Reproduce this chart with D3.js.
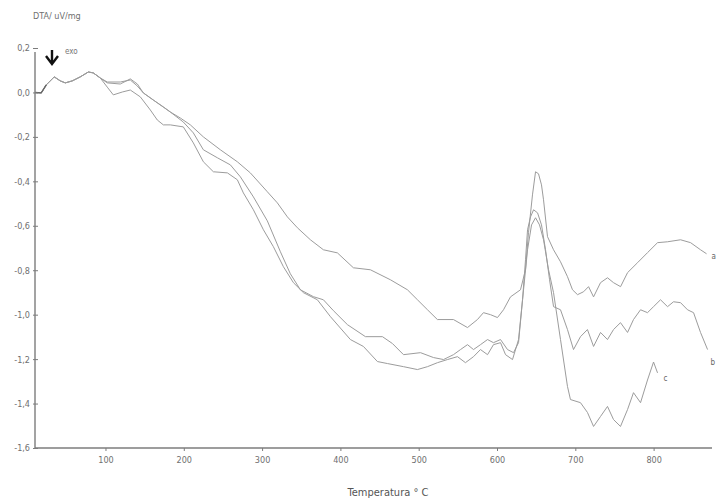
<!DOCTYPE html>
<html>
<head>
<meta charset="utf-8">
<script src="https://cdn.jsdelivr.net/npm/d3@7"></script>
<style>
  html, body { margin: 0; padding: 0; background: #fff; }
  svg { display: block; font-family: "Liberation Sans Narrow", "DejaVu Sans Condensed", "Liberation Sans", sans-serif; }
</style>
</head>
<body>
<svg id="chart" width="720" height="503"></svg>
<script>
// ---- data (temperature °C, DTA uV/mg) ----
const tempA = [10.3,18.0,24.4,34.6,42.3,48.7,57.6,67.8,78.1,84.4,93.4,102.3,118.9,131.7,140.7,148.3,161.1,173.9,182.8,195.6,208.4,225.0,246.7,268.4,285.0,306.7,319.5,332.3,345.1,361.7,378.3,396.2,416.6,438.3,463.9,485.6,498.4,511.2,523.9,544.4,562.3,575.0,582.7,591.7,600.6,608.3,617.2,630.0,636.4,640.2,645.3,649.2,653.0,656.8,659.4,664.5,672.2,681.1,690.0,696.4,702.8,710.5,716.9,723.3,732.2,741.1,748.8,757.8,766.7,779.5,792.2,805.0,817.8,834.4,847.2,859.9,867.6];
const valA = [0.0,-0.002,0.034,0.070,0.052,0.043,0.052,0.070,0.092,0.088,0.065,0.047,0.047,0.056,0.029,-0.002,-0.034,-0.065,-0.088,-0.115,-0.146,-0.200,-0.258,-0.312,-0.362,-0.447,-0.497,-0.560,-0.609,-0.663,-0.708,-0.722,-0.789,-0.798,-0.843,-0.888,-0.933,-0.978,-1.022,-1.022,-1.058,-1.022,-0.991,-1.000,-1.013,-0.978,-0.920,-0.888,-0.798,-0.631,-0.461,-0.357,-0.366,-0.416,-0.483,-0.649,-0.708,-0.762,-0.829,-0.888,-0.910,-0.897,-0.874,-0.920,-0.856,-0.834,-0.856,-0.874,-0.811,-0.766,-0.721,-0.676,-0.672,-0.663,-0.676,-0.708,-0.726];

const tempB = [10.3,18.0,24.4,34.6,42.3,48.7,57.6,67.8,78.1,84.4,93.4,102.3,118.9,131.7,140.7,148.3,166.2,182.8,199.4,212.2,225.0,242.9,259.5,272.3,288.9,306.7,323.4,336.1,348.9,365.5,378.3,391.1,409.0,432.0,453.7,466.5,480.6,502.3,518.9,531.7,544.4,553.4,562.3,570.0,578.9,587.9,595.5,604.5,613.4,621.1,627.5,632.6,636.4,639.0,642.8,646.7,651.8,656.8,662.0,667.1,672.2,681.1,690.0,697.7,706.6,715.5,723.3,732.2,741.1,748.8,757.7,766.7,774.3,783.3,792.2,799.9,808.8,817.8,825.4,834.4,843.3,851.0,859.9,868.9];
const valB = [0.0,-0.002,0.034,0.070,0.052,0.043,0.052,0.070,0.092,0.088,0.065,0.043,0.038,0.061,0.038,-0.002,-0.047,-0.088,-0.133,-0.182,-0.258,-0.294,-0.326,-0.380,-0.470,-0.578,-0.717,-0.816,-0.888,-0.919,-0.933,-0.982,-1.045,-1.099,-1.099,-1.130,-1.180,-1.171,-1.193,-1.202,-1.180,-1.157,-1.135,-1.157,-1.135,-1.112,-1.126,-1.112,-1.157,-1.171,-1.126,-0.933,-0.753,-0.618,-0.560,-0.528,-0.542,-0.596,-0.708,-0.843,-0.964,-0.978,-1.067,-1.157,-1.099,-1.067,-1.143,-1.080,-1.112,-1.067,-1.036,-1.080,-1.022,-0.978,-0.991,-0.964,-0.933,-0.964,-0.942,-0.946,-0.978,-0.991,-1.080,-1.157];

const tempC = [10.3,18.0,24.4,34.6,42.3,48.7,57.6,67.8,78.1,84.4,93.4,102.3,110.0,121.5,131.7,144.5,157.3,166.2,173.9,182.8,199.4,212.2,225.0,237.8,255.7,268.4,276.1,288.9,301.7,314.4,327.2,340.0,352.8,370.6,387.3,412.8,429.4,447.3,460.1,480.6,498.4,511.2,524.0,536.7,549.5,559.7,570.0,578.9,587.9,595.5,604.5,610.9,619.8,627.5,632.6,639.0,644.1,649.2,654.3,659.4,665.8,672.2,681.1,690.0,693.8,706.6,715.5,723.3,732.2,741.1,748.8,757.7,766.7,774.3,783.3,792.2,799.9,805.0];
const valC = [0.0,-0.002,0.034,0.070,0.052,0.043,0.052,0.070,0.092,0.088,0.065,0.024,-0.011,0.002,0.011,-0.020,-0.079,-0.124,-0.146,-0.146,-0.155,-0.227,-0.312,-0.357,-0.362,-0.393,-0.452,-0.528,-0.618,-0.694,-0.784,-0.856,-0.901,-0.933,-1.009,-1.112,-1.143,-1.211,-1.220,-1.234,-1.247,-1.234,-1.216,-1.202,-1.189,-1.216,-1.189,-1.157,-1.180,-1.135,-1.126,-1.180,-1.202,-1.112,-0.933,-0.708,-0.596,-0.564,-0.596,-0.663,-0.798,-0.901,-1.112,-1.323,-1.382,-1.396,-1.440,-1.503,-1.458,-1.413,-1.472,-1.503,-1.427,-1.351,-1.396,-1.294,-1.213,-1.262];

const seriesNames = ["a", "b", "c"];
const xTicks = [100, 200, 300, 400, 500, 600, 700, 800];
const xTickLabels = ["100", "200", "300", "400", "500", "600", "700", "800"];
const yTicks = [0.2, 0.0, -0.2, -0.4, -0.6, -0.8, -1.0, -1.2, -1.4, -1.6];
const yTickLabels = ["0,2", "0,0", "-0,2", "-0,4", "-0,6", "-0,8", "-1,0", "-1,2", "-1,4", "-1,6"];
const yTitle = "DTA/ uV/mg";
const xTitle = "Temperatura ° C";
const exoLabel = "exo";

// ---- drawing ----
const svg = d3.select("#chart");
const x = d3.scaleLinear().domain([10, 872]).range([35, 710]);
const y = d3.scaleLinear().domain([-1.6, 0.2]).range([448, 48]);
const grey = "#7c7c7c";

const seriesData = [
  tempA.map((t, i) => [t, valA[i]]),
  tempB.map((t, i) => [t, valB[i]]),
  tempC.map((t, i) => [t, valC[i]])
];

const line = d3.line().x(d => x(d[0])).y(d => y(d[1])).curve(d3.curveLinear);

svg.append("g").selectAll("path").data(seriesData).join("path")
  .attr("d", line)
  .attr("fill", "none")
  .attr("stroke", "#9c9c9c")
  .attr("stroke-width", 1)
  .attr("stroke-linejoin", "round");

// darker common start segment
svg.append("path")
  .attr("d", line(seriesData[0].slice(0, 3)))
  .attr("fill", "none").attr("stroke", "#666").attr("stroke-width", 1.4);

// series end labels
seriesData.forEach((s, i) => {
  const last = s[s.length - 1];
  const dx = [5, 3, 6][i], dy = [5, 15, 8][i];
  svg.append("text")
    .attr("x", x(last[0]) + dx).attr("y", y(last[1]) + dy)
    .attr("font-size", 8).attr("fill", "#666")
    .text(seriesNames[i]);
});

// axes
const xAxis = d3.axisBottom(x).tickValues(xTicks).tickSize(3).tickPadding(6)
  .tickFormat((d, i) => xTickLabels[i]);
const gx = svg.append("g").attr("transform", "translate(0,448)").call(xAxis);
gx.select(".domain").attr("d", `M${x(10)},0H${x(872) + 2}`).attr("stroke", grey).attr("stroke-width", 1.4);
gx.selectAll(".tick line").attr("stroke", grey);
gx.selectAll(".tick text").attr("fill", "#6f6f6f").attr("font-size", 9)
  .attr("font-family", "Liberation Sans Narrow, DejaVu Sans Condensed, sans-serif");

const yAxis = d3.axisLeft(y).tickValues(yTicks).tickSize(3).tickPadding(2)
  .tickFormat((d, i) => yTickLabels[i]);
const gy = svg.append("g").attr("transform", "translate(35,0)").call(yAxis);
gy.select(".domain").attr("d", `M0,${y(0.2) + 4}V${y(-1.6)}`).attr("stroke", grey).attr("stroke-width", 1.4);
gy.selectAll(".tick line").attr("stroke", grey).attr("x2", 3).attr("x1", -2);
gy.selectAll(".tick text").attr("fill", "#6f6f6f").attr("font-size", 9)
  .attr("font-family", "Liberation Sans Narrow, DejaVu Sans Condensed, sans-serif");

// titles
svg.append("text").attr("x", 33).attr("y", 19).attr("font-size", 9).attr("fill", "#6f6f6f")
  .text(yTitle);
svg.append("text").attr("x", 388).attr("y", 496).attr("text-anchor", "middle")
  .attr("font-size", 11).attr("fill", "#555").text(xTitle);

// exo arrow
const ax = 52;
svg.append("path")
  .attr("d", `M${ax},50V64M${ax - 6},56L${ax},64L${ax + 6},56`)
  .attr("fill", "none").attr("stroke", "#111").attr("stroke-width", 2.4)
  .attr("stroke-linejoin", "miter");
svg.append("text").attr("x", 65).attr("y", 54).attr("font-size", 8).attr("fill", "#777")
  .text(exoLabel);
</script>
</body>
</html>
